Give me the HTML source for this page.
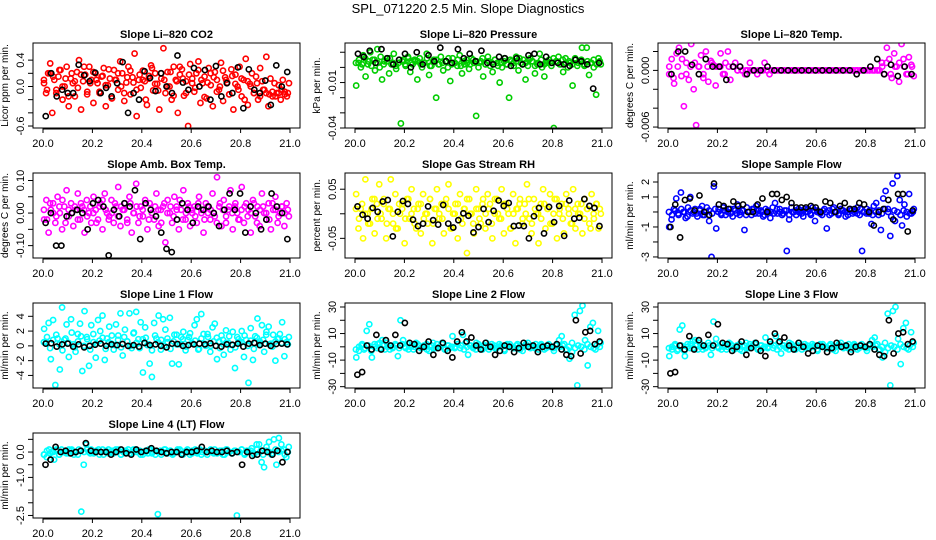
<!DOCTYPE html>
<html><head><meta charset="utf-8"><style>
body{margin:0;background:#fff;}
svg{display:block;font-family:"Liberation Sans",sans-serif;}
</style></head><body>
<svg id="c" width="936" height="540" viewBox="0 0 936 540">
<rect width="936" height="540" fill="#fff"/>
<text x="468" y="13" font-size="13" text-anchor="middle">SPL_071220  2.5 Min. Slope Diagnostics</text>
</svg>
<script>
const co2=[0.05,-0.1,0.2,0.35,-0.4,0.1,-0.05,0.15,0.25,-0.2,0.0,0.3,-0.3,0.12,0.05,-0.15,0.22,0.4,-0.35,0.08,0.18,-0.08,0.3,0.1,-0.25,0.2,0.05,-0.1,0.15,0.28,-0.3,0.02,0.12,-0.18,0.25,0.1,-0.05,0.38,0.2,-0.22,0.06,0.3,-0.12,0.14,0.5,-0.45,0.1,-0.02,0.24,0.08,-0.28,0.16,0.32,-0.06,0.2,0.04,-0.35,0.12,0.58,-0.1,0.22,0.0,-0.2,0.3,0.1,-0.4,0.18,0.26,-0.14,0.08,-0.6,0.34,0.12,-0.08,0.2,0.38,-0.25,0.05,0.15,-0.18,0.28,0.02,-0.3,0.22,0.1,-0.05,0.36,-0.22,0.14,0.06,-0.12,0.26,-0.35,0.18,0.0,0.3,-0.15,0.1,0.42,-0.28,0.04,0.2,-0.1,0.15,-0.2,0.28,0.08,-0.05,0.45,-0.3,0.12,-0.15,0.05,-0.1,0.02,-0.2,0.1,-0.08,-0.15,0.05];
const co2B=[0.1,-0.05,0.2,0.15,-0.1,0.25,0.0,0.12,-0.15,0.2,0.08,-0.02,0.18,0.3,-0.12,0.05,0.22,0.1,-0.08,0.16,0.02,0.26,-0.18,0.1,0.2,0.0,-0.1,0.14,0.24,0.06,-0.05,0.18,0.1,-0.2,0.12,0.28,0.04,-0.06,0.2,0.1,0.0,0.22,-0.14,0.08,0.3,0.12,-0.1,0.18,0.05,-0.02,0.25,0.1,-0.16,0.06,0.2,0.14,-0.08,0.0,0.24,0.1,-0.12,0.16,0.04,-0.05,0.12,-0.2,0.08,0.0,-0.1,0.05,-0.15,-0.05,-0.1,-0.12,-0.08,-0.15,-0.1,-0.05,-0.12,-0.1];
const co2Blk=[-0.45,0.2,-0.15,-0.05,-0.1,-0.1,0.33,0.17,0.08,0.21,-0.1,-0.02,-0.15,0.05,0.37,-0.4,-0.1,-0.2,0.23,0.13,-0.07,0.2,0.0,-0.1,0.47,0.06,-0.05,0.28,0.0,0.25,-0.2,0.31,-0.15,0.05,-0.1,0.29,-0.33,0.26,-0.05,-0.1,0.09,-0.28,0.32,0.0,0.22];
const pres=[-0.012,0.003,0.0,0.008,-0.006,0.002,0.01,0.005,-0.002,0.012,0.0,-0.008,0.004,0.006,-0.004,0.002,0.009,-0.001,0.003,-0.037,0.005,0.001,0.007,-0.003,0.002,0.004,-0.008,0.006,0.0,0.003,0.009,-0.005,0.001,0.005,-0.02,0.002,0.007,-0.002,0.004,0.0,-0.009,0.006,0.003,0.001,0.008,-0.004,0.002,0.005,-0.001,0.006,0.003,-0.032,0.0,0.004,-0.006,0.002,0.007,0.001,-0.003,0.005,0.003,-0.01,0.0,0.006,0.002,-0.02,0.004,0.001,0.007,-0.002,0.003,0.005,-0.008,0.001,0.006,0.004,-0.004,0.002,0.009,0.0,-0.006,0.003,0.005,0.001,-0.04,0.004,0.007,0.002,-0.003,0.006,0.0,0.003,-0.012,0.005,0.001,0.004,0.013,0.002,0.013,-0.005,0.003,0.0,-0.018,0.006,0.002];
const presB=[0.003,0.005,0.002,0.006,0.004,0.001,0.005,0.003,0.007,0.002,0.004,0.006,0.003,0.001,0.005,0.004,0.002,0.006,0.003,0.005,0.004,0.002,0.003,0.006,0.001,0.004,0.005,0.002,0.003,0.004,0.006,0.002,0.003,0.005,0.001,0.004,0.003,0.002,0.005,0.004,0.003,0.006,0.002,0.004,0.003,0.005,0.001,0.003,0.004,0.002,0.005,0.003,0.004,0.006,0.002,0.003,0.005,0.004,0.001,0.003,0.005,0.002,0.004,0.003,0.006,0.004,0.002,0.005,0.003,0.004,0.002,0.006,0.003,0.005,0.001,0.004,0.003,0.005,0.002,0.004];
const presBlk=[0.009,0.007,0.011,0.003,0.012,0.006,0.002,0.005,0.009,0.0,0.01,0.002,0.008,0.004,0.013,0.004,0.003,0.012,0.006,0.009,0.004,0.011,0.003,0.002,0.007,0.006,0.001,0.006,0.002,0.008,0.009,0.002,0.007,0.003,0.003,0.002,0.001,0.005,0.004,0.002,-0.014,0.003];
const temp=[-0.0004,0.0012,-0.0014,0.0018,0.0024,-0.0006,-0.0038,0.0008,-0.001,0.0028,-0.002,-0.0058,0.0004,0.0016,-0.0004,0.002,-0.0012,0.001,0.0006,-0.0016,0.0004,0.0018,-0.0004,0.0008,0.002,-0.001,0.0004,0.0008,0,0.0004,0,-0.0004,0,0.0008,0,0,-0.0004,0,0,0.0008,0,-0.0004,0,0,0,0,0,0,0,0,0,0,0,0,0,0,0,0,0,0,0,0,0,0,0,0,0,0,0,0,0,0,0,0,0,0,0,0,0,0,0,0,0,0,0,0,0,0.0008,-0.0004,0.0024,0.0012,-0.0008,0.0018,0.0004,-0.0012,0.0028,0.0004,-0.0004,0.0014,0.0006,-0.0006];
const tempB=[0.0004,-0.0008,0.0004,0.0012,-0.0004,0.0004,0.0008,0.0004,-0.0008,0.0004,0.0008,0.0004,0.0004,-0.0004,0.0004,0.0004,0,0,0,0,0,0,0,0,0,0,0,0,0,0,0,0,0,0,0,0,0,0,0,0,0,0,0,0,0,0,0,0,0,0,0.0004,0.0008,-0.0004,0.0004,0.0008,0.0012,-0.0004,0.0004];
const tempBlk=[-0.0004,0.002,0.002,0.0006,-0.0004,0.0012,0.0004,0.0004,-0.001,0.0004,0.0004,-0.0004,0,0,0.0004,0,0,0,0,0,0,0,0,0,0,0,0,-0.0004,0,0.0004,0.0012,-0.0004,0.0006,-0.0006,0.0004,-0.0004];
const amb=[-0.02,0.04,-0.06,0.01,0.03,-0.03,0.05,0.0,-0.05,0.02,0.07,-0.01,0.03,-0.04,0.01,0.06,-0.02,0.02,-0.06,0.04,0.0,-0.03,0.05,0.01,-0.02,0.03,-0.05,0.06,0.0,-0.01,0.04,-0.03,0.02,0.08,-0.04,0.01,0.03,-0.02,0.05,-0.06,0.0,0.09,-0.03,0.02,-0.01,0.04,-0.05,0.03,0.0,-0.02,0.06,-0.04,0.01,0.02,-0.09,0.04,0.0,-0.03,0.05,0.02,-0.05,0.01,0.07,-0.02,0.03,-0.04,0.0,0.02,-0.03,0.05,0.01,-0.06,0.03,0.0,-0.02,0.06,-0.01,0.11,0.02,-0.04,0.04,-0.03,0.01,0.07,-0.05,0.02,0.0,-0.02,0.08,-0.03,0.03,0.01,-0.06,0.04,-0.01,0.02,-0.04,0.06,0.0,-0.02,0.03,-0.05,0.01,0.05,-0.03,0.0,0.02,-0.04,0.03,-0.01];
const ambB=[0.01,-0.02,0.03,0.0,-0.01,0.02,0.04,-0.03,0.01,0.0,0.02,-0.02,0.03,0.01,-0.01,0.02,0.0,-0.03,0.02,0.04,0.01,-0.02,0.0,0.03,-0.01,0.02,0.01,-0.03,0.03,0.0,0.02,-0.01,0.01,0.03,-0.02,0.0,0.02,0.01,-0.03,0.03,0.0,0.02,-0.01,0.01,0.04,-0.02,0.0,0.02,0.01,-0.01,0.03,0.0,-0.02,0.02,0.01,0.0,-0.03,0.03,0.01,-0.01,0.02,0.0,0.03,-0.02,0.01,0.02,-0.01,0.0,0.03,-0.03,0.01,0.02,0.0,-0.02,0.03,0.01,-0.01,0.02,0.0,0.01];
const ambBlk=[-0.03,0.0,-0.1,-0.1,-0.01,0.0,0.01,0.0,-0.05,0.03,0.04,0.02,-0.13,0.01,-0.01,0.03,0.02,0.07,-0.08,0.03,0.01,-0.01,-0.06,-0.11,-0.12,-0.02,0.03,0.01,-0.03,0.02,0.01,0.02,0.0,-0.04,0.01,0.06,0.01,0.06,-0.06,0.02,0.0,-0.05,-0.02,0.06,0.02,0.0,-0.08];
const rh=[0.04,-0.03,0.01,-0.05,0.07,0.0,-0.02,0.03,-0.04,0.02,0.06,-0.01,0.03,-0.05,0.01,0.07,-0.02,0.04,-0.03,0.0,0.02,-0.06,0.03,-0.01,0.05,0.01,-0.03,0.02,-0.04,0.04,0.0,-0.02,0.03,-0.06,0.01,0.05,-0.01,0.02,-0.04,0.03,0.06,-0.03,0.0,0.02,-0.05,0.04,-0.02,0.01,-0.08,0.03,0.0,-0.04,0.05,0.01,-0.02,0.03,-0.03,0.04,0.02,-0.05,0.0,0.03,-0.01,0.05,-0.04,0.02,0.0,-0.03,0.04,-0.06,0.01,0.03,-0.02,0.02,0.06,-0.01,-0.04,0.03,0.0,-0.06,0.02,0.05,-0.03,0.01,0.04,-0.02,0.03,-0.05,0.0,0.02,-0.04,0.04,0.01,-0.02,0.05,-0.03,0.02,0.0,-0.04,0.03,0.01,-0.02,0.04,-0.01,0.02,-0.03,0.0];
const rhB=[0.01,-0.01,0.02,0.0,-0.02,0.01,0.03,-0.01,0.0,0.02,-0.02,0.01,0.0,-0.03,0.02,0.01,-0.01,0.03,0.0,-0.02,0.01,0.02,-0.01,0.0,0.03,-0.02,0.01,0.0,-0.01,0.02,0.01,-0.03,0.0,0.02,-0.01,0.01,0.03,0.0,-0.02,0.01,-0.01,0.02,0.0,0.01,-0.02,0.03,0.0,-0.01,0.02,0.01,-0.03,0.0,0.01,0.02,-0.01,0.0,0.03,-0.02,0.01,0.0,-0.01,0.02,0.01,-0.02,0.0,0.03,0.01,-0.01,0.02,0.0,-0.02,0.01,0.0,0.02,-0.01,0.01,-0.03,0.0,0.02,0.01];
const rhBlk=[0.015,-0.002,-0.01,0.012,0.004,0.025,0.028,-0.046,0.004,0.026,0.02,-0.012,-0.025,-0.02,0.015,-0.013,-0.022,0.018,-0.02,-0.028,-0.013,0.001,-0.004,-0.038,-0.027,0.01,-0.017,0.006,0.027,0.016,0.022,-0.025,-0.024,-0.025,-0.05,-0.005,0.012,-0.04,0.014,-0.017,0.016,-0.045,0.027,-0.01,-0.008,0.03,0.016,0.012,-0.025];
const samp=[-1.0,-0.5,0.2,0.9,-0.2,1.3,0.0,-0.4,0.3,1.0,-0.1,0.2,-0.3,0.1,0.4,-0.2,0.3,-0.6,-3.0,1.7,-1.1,0.2,-0.1,0.3,-0.2,0.0,0.2,-0.3,0.1,0.5,-0.2,0.1,-1.2,0.3,0.0,-0.2,0.2,0.4,-0.1,0.1,-0.3,0.2,0.0,-0.4,0.3,0.6,-0.1,0.2,-0.2,0.1,-2.6,-0.5,0.3,0.0,-0.2,0.2,0.1,-0.3,0.0,0.2,-0.1,0.3,-0.6,0.1,0.0,-0.2,0.2,-1.1,0.1,-0.1,0.3,0.0,-0.2,0.2,0.1,-0.3,0.0,0.2,-0.1,0.1,0.3,-0.2,-2.6,0.0,0.2,-0.1,-0.8,0.4,0.6,-0.2,-1.2,0.9,1.4,0.2,-1.6,1.9,-0.6,2.4,0.8,-0.9,0.5,-0.3,1.2,-0.1,0.2];
const sampB=[0.0,-0.2,0.1,-0.1,0.2,0.0,-0.3,0.1,0.0,-0.1,0.2,-0.2,0.0,0.1,-0.1,0.2,0.0,-0.2,0.1,0.0,-0.1,0.2,-0.1,0.0,0.1,-0.2,0.0,0.2,-0.1,0.1,0.0,-0.2,0.1,0.0,-0.1,0.2,0.0,-0.1,0.1,-0.2,0.0,0.1,0.0,-0.1,0.2,0.0,-0.2,0.1,0.0,-0.1,0.1,0.0,-0.2,0.2,0.0,-0.1,0.1,0.0,-0.2,0.1,0.0,-0.1,0.2,0.0,-0.1,0.1,-0.2,0.0,0.1,-0.1,0.2,0.0,-0.3,0.1,0.0,-0.2,0.1,0.0,-0.1,0.0];
const sampBlk=[-1.0,0.5,-1.7,0.8,0.9,0.1,1.1,0.0,-0.2,1.9,0.5,0.4,0.2,0.7,0.4,0.5,0.0,0.0,0.5,0.9,0.0,1.2,1.2,0.8,1.0,0.6,0.3,0.3,0.3,0.4,0.3,0.0,0.7,0.6,0.0,0.4,0.6,0.2,0.2,0.6,0.5,0.0,-0.9,0.0,0.2,0.8,-0.5,1.2,1.2,-1.3,0.1];
const l1=[2.3,0.5,3.1,-1.8,3.5,-5.3,1.0,-3.2,5.2,0.8,2.9,-1.5,3.6,0.2,-0.8,1.6,3.0,-3.4,4.7,1.2,-2.7,2.8,0.5,-1.6,3.5,2.0,4.1,-1.9,1.0,2.6,0.3,-0.5,2.9,1.4,4.4,-1.3,2.2,0.6,4.4,-0.3,1.8,4.6,0.9,3.2,-3.6,2.5,0.1,-2.4,-4.2,3.1,1.0,4.1,-0.5,3.6,2.2,0.5,3.8,-2.4,1.5,0.2,-2.5,1.2,1.9,-0.6,0.8,1.7,0.3,2.8,3.6,-0.4,4.3,1.6,0.0,1.2,-0.8,2.5,3.0,-1.8,0.6,1.4,-1.2,2.1,0.4,-0.5,1.9,-3.0,1.2,0.5,2.0,-1.5,0.8,-5.0,2.4,-1.9,1.3,3.7,0.6,2.8,-0.8,1.9,2.6,0.3,1.5,-2.0,0.9,1.6,3.2,-1.4,0.5,1.2];
const l1B=[0.5,1.2,-0.3,0.8,1.5,0.2,-0.6,1.0,0.4,1.8,-0.2,0.6,1.3,0.0,0.9,-0.5,1.6,0.3,0.7,1.1,-0.4,0.5,1.4,0.1,0.8,-0.2,1.2,0.6,0.0,1.7,0.4,-0.3,0.9,1.1,0.2,-0.6,1.4,0.5,0.8,0.0,1.0,-0.4,0.6,1.5,0.2,0.9,-0.1,1.2,0.4,0.7,-0.5,1.0,0.3,1.6,0.0,0.6,1.1,-0.3,0.8,0.4,1.3,0.1,-0.2,0.9,0.5,1.4,0.0,0.7,-0.4,1.1,0.3,0.8,1.5,0.2,-0.1,0.6,1.0,0.4,0.9,0.2];
const l1Blk=[0.3,0.35,-0.1,0.2,0.3,-0.1,0.2,-0.2,0.0,0.15,0.3,0.0,0.2,0.1,0.25,0.0,0.1,-0.1,0.4,0.1,0.2,0.0,-0.2,0.3,0.25,0.0,0.1,0.2,0.3,0.2,0.35,0.0,-0.1,0.2,0.15,0.3,-0.1,0.3,0.4,0.1,0.3,0.0,0.25,0.3,0.2];
const l2=[-8,-3,1,-2,12,17,-8,2,-1,3,5,-2,0,1,-1,2,-7,20,5,-1,2,0,-2,3,1,-1,0,2,-3,1,-1,2,0,3,-2,1,-1,8,0,2,-1,9,3,-6,1,0,-2,2,-1,1,3,-2,0,1,-1,2,0,-3,1,2,0,-1,2,-2,0,1,3,-1,0,2,-2,1,0,-1,2,0,-3,1,5,8,2,-2,-9,-4,24,-29,27,31,5,-14,15,18,-2,12,3];
const l2B=[-2,0,2,-1,1,-3,0,2,-1,1,3,-2,0,1,-1,2,0,-2,1,0,2,-1,1,-2,0,3,-1,0,2,-2,1,0,-1,2,1,-2,0,1,-1,3,0,-2,1,0,2,-1,0,1,-2,2,0,-1,1,0,-3,2,0,1,-1,0,2,-2,1,0,-1,2,0,1,-2,0,3,-1,1,0,-2,2,0,-1,1,0];
const l2Blk=[-21,-19,1,-2,9,-2,5,1,9,1,18,3,2,-3,0,4,-6,-1,3,-3,-8,4,11,4,7,1,-2,3,0,-6,-3,1,0,-4,-1,3,0,1,-4,0,1,0,2,-2,-6,-7,20,-5,11,12,2,4];
const l3=[-7,-2,1,-3,13,16,-7,2,-1,4,5,-2,0,1,-1,3,-6,19,6,-1,2,0,-2,3,1,-2,0,2,-3,1,-1,2,1,3,-2,1,-1,7,0,2,-1,8,3,-5,1,0,-2,2,-1,1,3,-2,0,1,-1,2,0,-3,1,2,0,-1,2,-2,0,1,3,-1,0,2,-2,1,0,-1,2,0,-3,1,5,7,2,-2,-8,-4,25,-29,27,30,6,-13,14,18,-2,11,3];
const l3B=[-1,0,2,-2,1,-3,0,2,-1,1,3,-2,0,1,-1,2,0,-2,1,0,2,-1,1,-2,0,3,-1,0,2,-2,1,0,-1,2,1,-2,0,1,-1,3,0,-2,1,0,2,-1,0,1,-2,2,0,-1,1,0,-3,2,0,1,-1,0,2,-2,1,0,-1,2,0,1,-2,0,3,-1,1,0,-2,2,0,-1,1,0];
const l3Blk=[-20,-19,1,-2,8,-2,5,1,9,1,17,3,2,-3,0,4,-6,-1,3,-3,-7,4,10,4,7,1,-2,3,0,-5,-3,1,0,-4,-1,3,0,1,-4,0,1,0,2,-2,-6,-7,20,-5,10,11,2,4];
const l4=[-0.1,-0.2,0.1,0.0,-0.3,0.05,-0.1,0.1,0.0,-0.05,0.1,0.05,-0.1,0.0,0.1,-2.35,-0.5,0.3,0.0,0.1,-0.05,0.05,0.1,0.0,-0.1,0.05,0.1,0.0,-0.05,0.1,0.05,-0.1,0.0,0.05,0.1,-0.05,0.0,0.1,0.05,-0.1,0.0,0.05,-0.05,0.1,0.0,-0.1,-2.45,0.05,0.0,0.1,-0.05,0.05,-0.1,0.0,0.1,0.05,-0.05,0.0,0.1,-0.1,0.05,0.0,-0.05,0.1,0.0,0.05,-0.1,0.05,0.0,0.1,-0.05,0.0,0.05,-0.1,0.1,0.0,-0.05,0.05,-2.5,0.0,0.1,-0.05,0.05,0.0,0.15,-0.1,0.3,0.3,-0.4,-0.6,0.2,0.4,-0.1,0.5,-0.5,0.55,0.3,0.1,-0.2,0.2];
const l4B=[-0.1,0.05,-0.05,0.0,0.1,-0.1,0.0,0.05,-0.05,0.1,0.0,-0.1,0.05,0.0,0.1,-0.05,0.0,0.05,-0.1,0.1,0.0,-0.05,0.05,0.0,0.1,-0.1,0.05,0.0,-0.05,0.1,0.0,0.05,-0.1,0.0,0.1,-0.05,0.05,0.0,-0.1,0.1,0.0,0.05,-0.05,0.0,0.1,-0.1,0.05,0.0,-0.05,0.1,0.0,-0.1,0.05,0.0,0.1,-0.05,0.0,0.05,-0.1,0.1,0.0,-0.05,0.05,0.0,0.1,-0.1,0.0,0.05,-0.05,0.1,0.0,-0.1,0.05,0.0,-0.05,0.1,0.0,0.05,-0.1,0.0];
const l4Blk=[-0.5,-0.3,0.2,0.0,0.05,-0.05,0.0,0.05,0.35,0.05,0.0,0.0,0.0,-0.1,0.0,0.1,-0.05,-0.1,0.1,0.0,0.05,0.15,0.05,0.0,-0.05,0.0,0.0,-0.1,0.0,0.0,0.05,0.2,0.0,0.05,0.0,0.0,0.05,-0.05,0.0,-0.5,0.0,-0.15,-0.1,0.05,0.0,-0.1,0.05,-0.4,0.0];
const xTicks=[20.0,20.2,20.4,20.6,20.8,21.0];

const NS="http://www.w3.org/2000/svg";
const svg=document.getElementById('c');
function mk(tag,attrs,parent){const e=document.createElementNS(NS,tag);for(const k in attrs)e.setAttribute(k,attrs[k]);(parent||svg).appendChild(e);return e;}

const panels=[
 {key:'co2',title:'Slope Li\u2013820 CO2',ylab:'Licor ppm per min.',col:0,row:0,ymin:-0.63,ymax:0.66,ticks:[-0.6,-0.4,-0.2,0,0.2,0.4],labels:[[-0.6,'-0.6'],[0,'0.0'],[0.4,'0.4']],c:'#ff0000',d:co2,d2:co2B,b:co2Blk},
 {key:'pressure',title:'Slope Li\u2013820 Pressure',ylab:'kPa per min.',col:1,row:0,ymin:-0.04,ymax:0.0161,ticks:[-0.04,-0.03,-0.02,-0.01,0,0.01],labels:[[-0.04,'-0.04'],[-0.01,'-0.01']],c:'#00cd00',d:pres,d2:presB,b:presBlk},
 {key:'temp',title:'Slope Li\u2013820 Temp.',ylab:'degrees C per min.',col:2,row:0,ymin:-0.0061,ymax:0.0029,ticks:[-0.006,-0.004,-0.002,0,0.002],labels:[[-0.006,'-0.006'],[0,'0.000']],c:'#ff00ff',d:temp,d2:tempB,b:tempBlk},
 {key:'amb',title:'Slope Amb. Box Temp.',ylab:'degrees C per min.',col:0,row:1,ymin:-0.138,ymax:0.123,ticks:[-0.1,-0.05,0,0.05,0.1],labels:[[-0.1,'-0.10'],[0,'0.00'],[0.1,'0.10']],c:'#ff00ff',d:amb,d2:ambB,b:ambBlk},
 {key:'rh',title:'Slope Gas Stream RH',ylab:'percent per min.',col:1,row:1,ymin:-0.09,ymax:0.083,ticks:[-0.05,0,0.05],labels:[[-0.05,'-0.05'],[0.05,'0.05']],c:'#ffff00',d:rh,d2:rhB,b:rhBlk},
 {key:'sample',title:'Slope Sample Flow',ylab:'ml/min per min.',col:2,row:1,ymin:-3.07,ymax:2.6,ticks:[-3,-2,-1,0,1,2],labels:[[-3,'-3'],[-1,'-1'],[1,'1'],[2,'2']],c:'#0000ff',d:samp,d2:sampB,b:sampBlk},
 {key:'line1',title:'Slope Line 1 Flow',ylab:'ml/min per min.',col:0,row:2,ymin:-5.7,ymax:5.8,ticks:[-4,-2,0,2,4],labels:[[-4,'-4'],[-2,'-2'],[0,'0'],[2,'2'],[4,'4']],c:'#00ffff',d:l1,d2:l1B,b:l1Blk},
 {key:'line2',title:'Slope Line 2 Flow',ylab:'ml/min per min.',col:1,row:2,ymin:-31,ymax:33,ticks:[-30,-20,-10,0,10,20,30],labels:[[-30,'-30'],[-10,'-10'],[10,'10'],[30,'30']],c:'#00ffff',d:l2,d2:l2B,b:l2Blk},
 {key:'line3',title:'Slope Line 3 Flow',ylab:'ml/min per min.',col:2,row:2,ymin:-31,ymax:33,ticks:[-30,-20,-10,0,10,20,30],labels:[[-30,'-30'],[-10,'-10'],[10,'10'],[30,'30']],c:'#00ffff',d:l3,d2:l3B,b:l3Blk},
 {key:'line4',title:'Slope Line 4 (LT) Flow',ylab:'ml/min per min.',col:0,row:3,ymin:-2.6,ymax:0.75,ticks:[-2.5,-2,-1.5,-1,-0.5,0,0.5],labels:[[-2.5,'-2.5'],[-1,'-1.0'],[0,'0.0']],c:'#00ffff',d:l4,d2:l4B,b:l4Blk}
];
const colL=[33,345,658],rowT=[43,173,303,433],W=267,H=85;

panels.forEach(p=>{
 const L=colL[p.col],T=rowT[p.row];
 const g=mk('g',{});
 
 
 const xs=v=>L+10+(v-20)*247;
 const ys=v=>T+H-(v-p.ymin)/(p.ymax-p.ymin)*H;
 const t=mk('text',{x:L+W/2,y:T-5,'font-size':11,'font-weight':'bold','text-anchor':'middle'},g);
 t.textContent=p.title;
 
 
 const clip=mk('clipPath',{id:'cl'+p.key},g);
 mk('rect',{x:L,y:T,width:W,height:H},clip);
 const pts=mk('g',{'clip-path':'url(#cl'+p.key+')',fill:'none','stroke-width':1.6},g);
 p.d.forEach((v,i)=>{
  const c=mk('circle',{cx:xs(20+(i+0.5)/p.d.length),cy:ys(v),r:2.6,stroke:p.c},pts);
  
  
 });
 p.d2.forEach((v,i)=>{
  const c=mk('circle',{cx:xs(20+(i+0.3)/p.d2.length),cy:ys(v),r:2.6,stroke:p.c},pts);
  
  
 });
 p.b.forEach((v,i)=>{
  const c=mk('circle',{cx:xs(20+(i+0.5)/p.b.length),cy:ys(v),r:2.6,stroke:'#000'},pts);
  
  
 });
 const box=mk('rect',{x:L,y:T,width:W,height:H,fill:'none',stroke:'#000','stroke-width':1},g);
 
 
 mk('line',{x1:xs(20),x2:xs(21),y1:T+H+1,y2:T+H+1,stroke:'#000'},g);
 xTicks.forEach(v=>{
  mk('line',{x1:xs(v),x2:xs(v),y1:T+H,y2:T+H+5,stroke:'#000'},g);
  const tx=mk('text',{x:xs(v),y:T+H+19,'font-size':11,'text-anchor':'middle'},g);
  tx.textContent=v.toFixed(1);
  
  
 });
 p.ticks.forEach(v=>{mk('line',{x1:L-5,x2:L,y1:ys(v),y2:ys(v),stroke:'#000'},g);});
 p.labels.forEach(([v,s])=>{
  const y=ys(v);
  const tx=mk('text',{x:L-9,y:y,'font-size':11,'text-anchor':'middle',transform:'rotate(-90 '+(L-9)+' '+y+')'},g);
  tx.textContent=s;
  
  
 });
 const yl=mk('text',{x:L-25,y:T+H/2,'font-size':10,'text-anchor':'middle',transform:'rotate(-90 '+(L-25)+' '+(T+H/2)+')'},g);
 yl.textContent=p.ylab;
 
 
});
</script>
</body></html>
